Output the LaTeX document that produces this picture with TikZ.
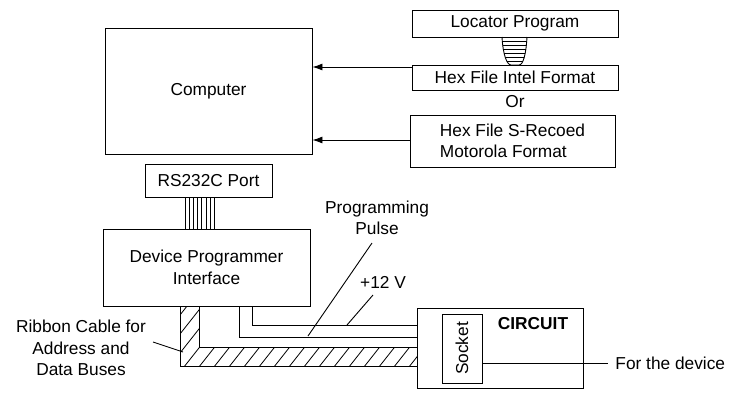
\documentclass[tikz,border=0pt]{standalone}
\usepackage{fontspec}
\setmainfont{Liberation Sans}
\usetikzlibrary{arrows.meta}
\begin{document}
\begin{tikzpicture}[x=1pt,y=-1pt,line width=0.9pt,
  font=\fontsize{17.3}{21.5}\selectfont,
  box/.style={draw,inner sep=0pt,align=center},
  lbl/.style={inner sep=0pt,align=center},
  arr/.style={-{Latex[length=10pt,width=7pt]}}]
\useasboundingbox (0,0) rectangle (729,392);
% boxes
\node[box,minimum width=207pt,minimum height=126pt] (comp) at (208.5,91) {Computer};
\node[box,minimum width=206pt,minimum height=27pt] (loc) at (515,23.5) {Locator Program};
\node[box,minimum width=206pt,minimum height=25pt] (intel) at (515,77.5) {Hex File Intel Format};
\node[lbl] (or) at (515,102) {Or};
\node[box,align=left,minimum width=205pt,minimum height=52pt] (moto) at (512.5,141) {Hex File S-Recoed\\Motorola Format};
\node[box,minimum width=127pt,minimum height=33pt] (rs) at (208.5,180.5) {RS232C Port};
\node[box,minimum width=207pt,minimum height=77pt] (dpi) at (206.5,267.5) {Device Programmer\\Interface};
\node[box,minimum width=166pt,minimum height=80pt] (circ) at (500,348) {};
\node[box,minimum width=40pt,minimum height=69pt] (sock) at (462,348.5) {};
\node[lbl,rotate=90] (socktxt) at (sock.center) {Socket};
\node[lbl,font=\fontsize{17.3}{21.5}\selectfont\bfseries] (circtxt) at (533,324) {CIRCUIT};
\node[lbl,anchor=west] (dev) at (615,363) {For the device};
\coordinate (devend) at (608,363);
\node[lbl] (pp) at (377,218) {Programming\\Pulse};
\node[lbl] (v12) at (383,282) {+12 V};
\node[lbl] (rib) at (81,348) {Ribbon Cable for\\Address and\\Data Buses};
% arrows into computer
\coordinate (a1) at (comp.east |- 0,67);
\coordinate (a2) at (comp.east |- 0,140);
\draw[arr] (intel.west |- a1) -- (a1);
\draw[arr] (moto.west |- a2) -- (a2);
% funnel between locator and intel
\begin{scope}
  \clip (502,37) .. controls (503,55) and (507,65) .. (511,65) -- (519,65) .. controls (523,65) and (526,55) .. (527,37) -- cycle;
  \foreach \y in {41,45,...,64} \draw[line width=0.8pt] (500,\y) -- (530,\y);
\end{scope}
\draw (502,37) .. controls (503,55) and (507,65) .. (511,65) -- (519,65) .. controls (523,65) and (526,55) .. (527,37);
% RS232C cable
\foreach \x in {185,189.2,...,215} \draw[line width=0.8pt] (\x,197) -- (\x,229);
% ribbon cable
\begin{scope}
  \clip (180,306) -- (180,366) -- (417,366) -- (417,347) -- (199,347) -- (199,306) -- cycle;
  \foreach \x in {120,135,...,430} \draw[line width=0.8pt] (\x,372) -- ++(60,-76);
\end{scope}
\draw (180,306) |- (circ.west |- 0,366);
\draw (199,306) |- (circ.west |- 0,347);
% wires
\draw (239,306) |- (circ.west |- 0,337);
\draw (252,306) |- (circ.west |- 0,325);
% socket to device
\draw (sock.east |- devend) -- (devend);
% leaders
\draw (372,243) -- (308,336);
\draw (373,295) -- (347,325);
\draw (153,342) -- (183,352);
\end{tikzpicture}
\end{document}
